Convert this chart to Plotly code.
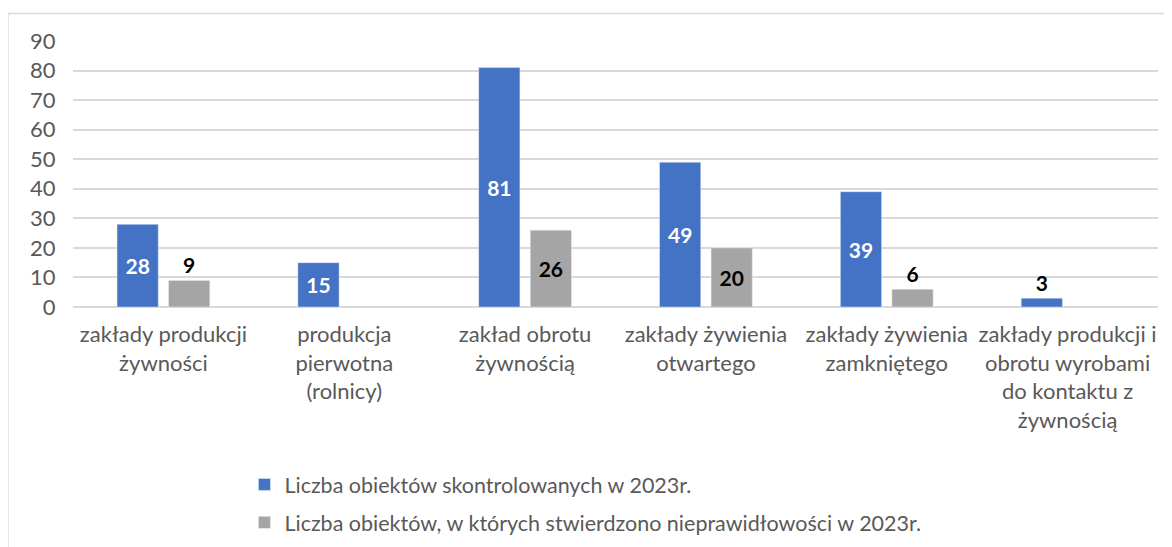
import plotly.graph_objects as go

categories = [
    "zakłady produkcji<br>żywności",
    "produkcja<br>pierwotna<br>(rolnicy)",
    "zakład obrotu<br>żywnością",
    "zakłady żywienia<br>otwartego",
    "zakłady żywienia<br>zamkniętego",
    "zakłady produkcji i<br>obrotu wyrobami<br>do kontaktu z<br>żywnością",
]
skontrolowane = [28, 15, 81, 49, 39, 3]
nieprawidlowosci = [9, None, 26, 20, 6, None]

name_1 = "Liczba obiektów skontrolowanych w 2023r."
name_2 = "Liczba obiektów, w których stwierdzono nieprawidłowości w 2023r."

FONT = "Lato, Calibri, Carlito, sans-serif"
BLUE = "#4472C4"
GRAY = "#A5A5A5"
TXT = "#595959"
LBL = dict(size=21, family=FONT, weight="bold")

fig = go.Figure()
fig.add_trace(go.Bar(
    x=categories, y=skontrolowane, name=name_1, legendgroup="a",
    marker=dict(color=BLUE),
    text=skontrolowane,
    textposition=["inside"] * 5 + ["outside"],
    insidetextanchor="middle",
    insidetextfont=dict(color="white", **LBL),
    outsidetextfont=dict(color="black", **LBL),
    cliponaxis=False,
))
fig.add_trace(go.Bar(
    x=categories, y=nieprawidlowosci, name=name_2, legendgroup="b",
    marker=dict(color=GRAY),
    text=[v if v is not None else "" for v in nieprawidlowosci],
    textposition=["outside", "none", "inside", "inside", "outside", "none"],
    insidetextanchor="middle",
    insidetextfont=dict(color="black", **LBL),
    outsidetextfont=dict(color="black", **LBL),
    cliponaxis=False,
))

# light frame of the chart area (top and left edges visible)
fig.add_shape(type="line", xref="paper", yref="paper",
              x0=-0.060, x1=1.2, y0=1.103, y1=1.103,
              line=dict(color="#D9D9D9", width=1.5))
fig.add_shape(type="line", xref="paper", yref="paper",
              x0=-0.060, x1=-0.060, y0=1.103, y1=-1.2,
              line=dict(color="#D9D9D9", width=1.5))

fig.update_layout(
    width=1172, height=547,
    margin=dict(l=65, r=22, t=33, b=248),
    paper_bgcolor="white", plot_bgcolor="white",
    barmode="group", bargap=0.43, bargroupgap=0.2,
    font=dict(family=FONT, size=22, color=TXT),
    showlegend=True,
    legend=dict(orientation="v", x=0.158, xanchor="left", y=-0.59, yanchor="top",
                font=dict(size=21.5, color=TXT), tracegroupgap=7,
                traceorder="grouped", itemwidth=30),
    xaxis=dict(showline=False, ticks="", ticklabelstandoff=12,
               tickfont=dict(size=22, color=TXT)),
    yaxis=dict(range=[0, 90], dtick=10, showgrid=True, gridcolor="#D9D9D9",
               gridwidth=1.5, zeroline=True, zerolinecolor="#D9D9D9",
               zerolinewidth=1.5, ticks="outside", ticklen=12,
               tickcolor="rgba(0,0,0,0)",
               tickfont=dict(size=22, color=TXT)),
)

fig.write_html("out.html")
